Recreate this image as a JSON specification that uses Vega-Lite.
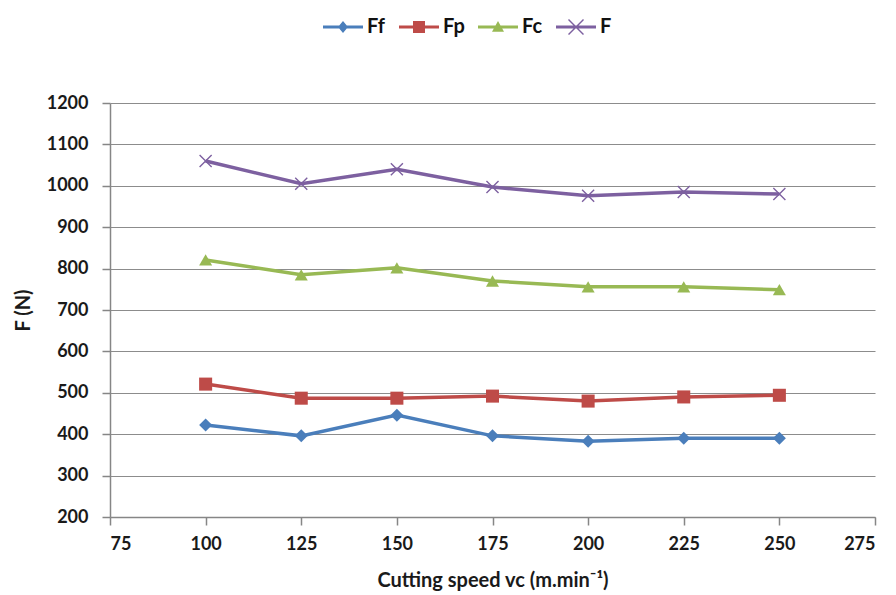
{
  "$schema": "https://vega.github.io/schema/vega-lite/v6.json",
  "width": 765,
  "height": 414,
  "autosize": {"type": "none"},
  "padding": {"left": 110, "top": 103, "right": 21, "bottom": 78},
  "background": "white",
  "config": {
    "font": "Lato",
    "view": {"stroke": null},
    "axis": {"labelFont": "Lato", "labelFontWeight": "bold", "labelFontSize": 18, "labelColor": "#1a1a1a", "titleFont": "Lato", "titleFontWeight": "bold", "titleFontSize": 20, "titleColor": "#1a1a1a", "domainColor": "#868686", "domainWidth": 1.5, "tickColor": "#868686", "tickWidth": 1.5, "gridColor": "#8c8c8c", "gridWidth": 1.2, "tickSize": 8}
  },
  "data": {
    "values": [
      {"v": 100, "s": "Ff", "f": 422}, {"v": 125, "s": "Ff", "f": 396}, {"v": 150, "s": "Ff", "f": 446}, {"v": 175, "s": "Ff", "f": 396}, {"v": 200, "s": "Ff", "f": 383}, {"v": 225, "s": "Ff", "f": 390}, {"v": 250, "s": "Ff", "f": 390},
      {"v": 100, "s": "Fp", "f": 521}, {"v": 125, "s": "Fp", "f": 487}, {"v": 150, "s": "Fp", "f": 487}, {"v": 175, "s": "Fp", "f": 492}, {"v": 200, "s": "Fp", "f": 480}, {"v": 225, "s": "Fp", "f": 490}, {"v": 250, "s": "Fp", "f": 494},
      {"v": 100, "s": "Fc", "f": 821}, {"v": 125, "s": "Fc", "f": 785}, {"v": 150, "s": "Fc", "f": 802}, {"v": 175, "s": "Fc", "f": 770}, {"v": 200, "s": "Fc", "f": 756}, {"v": 225, "s": "Fc", "f": 756}, {"v": 250, "s": "Fc", "f": 749},
      {"v": 100, "s": "F", "f": 1060}, {"v": 125, "s": "F", "f": 1005}, {"v": 150, "s": "F", "f": 1040}, {"v": 175, "s": "F", "f": 997}, {"v": 200, "s": "F", "f": 976}, {"v": 225, "s": "F", "f": 985}, {"v": 250, "s": "F", "f": 980}
    ]
  },
  "encoding": {
    "x": {"field": "v", "type": "quantitative", "scale": {"domain": [75, 275], "nice": false, "zero": false},
      "axis": {"values": [75, 100, 125, 150, 175, 200, 225, 250, 275], "format": "d", "grid": false, "title": "Cutting speed vc (m.min⁻¹)", "titlePadding": 17, "labelPadding": 10}},
    "y": {"field": "f", "type": "quantitative", "scale": {"domain": [200, 1200], "nice": false, "zero": false},
      "axis": {"values": [200, 300, 400, 500, 600, 700, 800, 900, 1000, 1100, 1200], "format": "d", "grid": true, "title": "F (N)", "titlePadding": 13, "labelPadding": 14}}
  },
  "layer": [
    {"mark": {"type": "line", "strokeWidth": 3.5},
      "encoding": {"color": {"field": "s", "type": "nominal", "scale": {"domain": ["Ff", "Fp", "Fc", "F"], "range": ["#4A7EBB", "#BE4B48", "#98B954", "#7D60A0"]}, "legend": null}}},
    {"mark": {"type": "point", "filled": true, "opacity": 1, "size": 170},
      "encoding": {
        "color": {"field": "s", "type": "nominal", "scale": {"domain": ["Ff", "Fp", "Fc", "F"], "range": ["#4A7EBB", "#BE4B48", "#98B954", "#7D60A0"]}, "legend": null},
        "shape": {"field": "s", "type": "nominal",
        "scale": {"domain": ["Ff", "Fp", "Fc", "F"], "range": ["diamond", "square", "triangle-up", "M-1,-0.85L-0.85,-1L0,-0.15L0.85,-1L1,-0.85L0.15,0L1,0.85L0.85,1L0,0.15L-0.85,1L-1,0.85L-0.15,0Z"]},
        "legend": null}}},
    {"transform": [{"filter": "datum.f < 0"}],
      "mark": {"type": "point", "filled": true, "opacity": 1},
      "encoding": {
        "color": {"field": "s", "type": "nominal", "scale": {"domain": ["Ff", "Fp", "Fc", "F"], "range": ["#4A7EBB", "#BE4B48", "#98B954", "#7D60A0"]},
          "legend": {"title": null, "orient": "none", "legendX": 213, "legendY": -96, "direction": "horizontal", "labelFont": "Lato", "labelFontWeight": "bold", "labelFontSize": 20, "labelColor": "#111", "labelOffset": 4, "symbolSize": 1600, "columnPadding": 13, "symbolStrokeWidth": 0}},
        "shape": {"field": "s", "type": "nominal",
          "scale": {"domain": ["Ff", "Fp", "Fc", "F"], "range": [
            "M-1,-0.07H1V0.07H-1Z M0,-0.3L0.25,0L0,0.3L-0.25,0Z",
            "M-1,-0.07H1V0.07H-1Z M-0.3,-0.3H0.3V0.3H-0.3Z",
            "M-1,-0.07H1V0.07H-1Z M0,-0.3L0.3,0.24H-0.3Z",
            "M-1,-0.07H1V0.07H-1Z M-0.4,-0.35L-0.35,-0.4L0,-0.05L0.35,-0.4L0.4,-0.35L0.05,0L0.4,0.35L0.35,0.4L0,0.05L-0.35,0.4L-0.4,0.35L-0.05,0Z"]},
          "legend": {"title": null, "orient": "none", "legendX": 213, "legendY": -96, "direction": "horizontal", "labelFont": "Lato", "labelFontWeight": "bold", "labelFontSize": 20, "labelColor": "#111", "labelOffset": 4, "symbolSize": 1600, "columnPadding": 13, "symbolStrokeWidth": 0}}
      }}
  ],
  "resolve": {"scale": {"color": "independent", "shape": "independent"}}
}
